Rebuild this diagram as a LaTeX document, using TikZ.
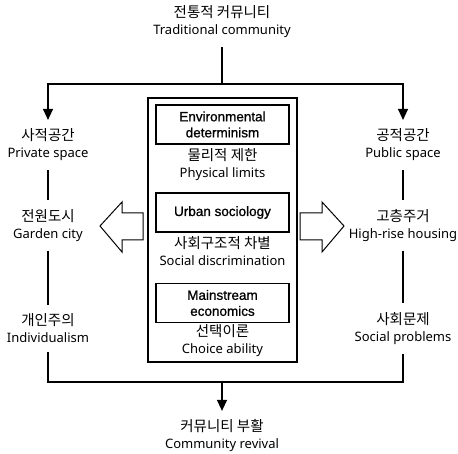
\documentclass[tikz,border=0pt]{standalone}
\usepackage{fontspec}
\setmainfont{Noto Sans}
\newfontfamily\kr{Noto Sans CJK KR}
\newfontfamily\boxfont{Liberation Sans}[FakeBold=0.9]
\usetikzlibrary{arrows.meta}
\newcommand\duo[2]{{\kr\fontsize{14.5}{17}\selectfont #1}\\#2}

\begin{document}
\begin{tikzpicture}[x=1pt,y=-1pt,
    term/.style={align=center,font=\fontsize{13}{17}\selectfont,inner sep=0pt,outer sep=9pt},
    theory/.style={draw,line width=1.2pt,minimum width=133pt,minimum height=39pt,align=center,
        font=\boxfont\fontsize{13.5}{16}\selectfont,inner sep=0pt},
    link/.style={line width=1.2pt},
    down/.style={link,-{Triangle[length=11pt,width=10pt]}}]
    \useasboundingbox (0,0) rectangle (458,454);
    \node[term] (trad) at (222,22) {\duo{전통적 커뮤니티}{Traditional community}};
    \node[term] (private) at (48,145) {\duo{사적공간}{Private space}};
    \node[term] (garden) at (48,225.5) {\duo{전원도시}{Garden city}};
    \node[term] (individual) at (48,328.5) {\duo{개인주의}{Individualism}};
    \node[term] (public) at (403,145) {\duo{공적공간}{Public space}};
    \node[term] (highrise) at (403,225.5) {\duo{고층주거}{High-rise housing}};
    \node[term] (problems) at (403,328.5) {\duo{사회문제}{Social problems}};
    \node[term] (revival) at (222,436) {\duo{커뮤니티 부활}{Community revival}};
    \draw[link] (148,98) rectangle (297,362);
    \node[theory] (envdet) at (222.5,124.5) {Environmental\\determinism};
    \node[term,outer sep=0pt] (physical) at (222.5,165) {\duo{물리적 제한}{Physical limits}};
    \node[theory] (urban) at (222.5,212.5) {Urban sociology};
    \node[term,outer sep=0pt] (discrim) at (222.5,251.5) {\duo{사회구조적 차별}{Social discrimination}};
    \node[theory] (mainstream) at (222.5,303) {Mainstream\\economics};
    \node[term,outer sep=0pt] (choice) at (222.5,341) {\duo{선택이론}{Choice ability}};
    \coordinate (split) at (222,84);
    \coordinate (join) at (222,382);
    \draw[link] (trad) -- (split);
    \draw[down] (split) -| (private);
    \draw[down] (split) -| (public);
    \draw[link] (private) -- (garden);
    \draw[link] (garden) -- (individual);
    \draw[link] (public) -- (highrise);
    \draw[link] (highrise) -- (problems);
    \draw[link] (individual) |- (join);
    \draw[link] (problems) |- (join);
    \draw[down] (join) -- (revival);
    \draw[line width=1pt] (143,213) -- (122,213) -- (122,202) -- (100,226) -- (122,252) -- (122,240) -- (143,240) -- cycle;
    \draw[line width=1pt] (300,213) -- (322,213) -- (322,202) -- (344,226) -- (322,252) -- (322,240) -- (300,240) -- cycle;
\end{tikzpicture}
\end{document}
